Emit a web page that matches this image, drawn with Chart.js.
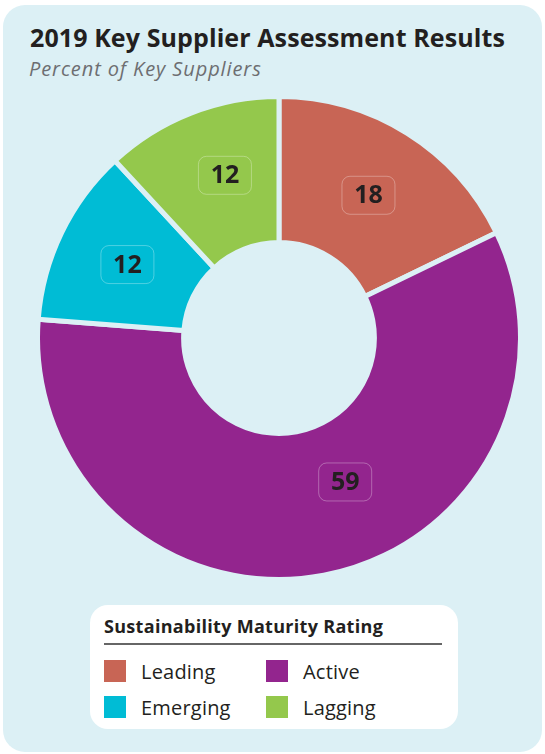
<!DOCTYPE html>
<html>
<head>
<meta charset="utf-8">
<script src="https://cdn.jsdelivr.net/npm/chart.js@4"></script>
<style>
  body { margin: 0; background: #fff; font-family: "Open Sans", "Noto Sans", sans-serif; }
  #card { position: absolute; left: 3px; top: 5px; width: 539px; height: 747px; background: #dcf0f5; border-radius: 22px; }
  #title { position: absolute; left: 30px; top: 20px; font-size: 25px; font-weight: 700; color: #231f20; letter-spacing: 0.1px; }
  #subtitle { position: absolute; left: 29px; top: 55px; font-size: 20px; font-style: italic; color: #6d6e71; letter-spacing: 0.9px; }
  #chartWrap { position: absolute; left: 35px; top: 94px; width: 488px; height: 488px; }
  #legend { position: absolute; left: 90px; top: 605px; width: 368px; height: 124px; background: #fff; border-radius: 18px; }
  #legend h3 { margin: 0; position: absolute; left: 14px; top: 9px; width: 338px; font-size: 18px; font-weight: 700; color: #231f20;
    letter-spacing: 0.3px; padding-bottom: 5px; border-bottom: 2px solid #666; }
  .item { position: absolute; font-size: 20px; color: #231f20; line-height: 22px; }
  .item span { position: absolute; left: 0; top: 0; width: 22px; height: 22px; }
  .item b { font-weight: 400; position: absolute; left: 37px; top: 1px; white-space: nowrap; letter-spacing: 0.2px; }
</style>
</head>
<body>
<div id="card"></div>
<div id="title">2019 Key Supplier Assessment Results</div>
<div id="subtitle">Percent of Key Suppliers</div>
<div id="chartWrap"><canvas id="chart"></canvas></div>
<div id="legend"><h3>Sustainability Maturity Rating</h3></div>
<script>
const categories = ['Leading', 'Active', 'Emerging', 'Lagging']
const values = [18, 59, 12, 12]
const colors = ['#c86555', '#93258e', '#00bcd5', '#94c84c']

/* ordre de la légende : Leading, Active / Emerging, Lagging */
const legendOrder = [0, 1, 2, 3]

const cardColor = '#dcf0f5'

/* Étiquettes dans des boîtes arrondies au milieu de chaque part */
const boxLabels = {
  id: 'boxLabels',
  afterDatasetsDraw(chart, args, opts) {
    const ctx = chart.ctx
    const meta = chart.getDatasetMeta(0)
    meta.data.forEach((arc, i) => {
      const p = arc.getProps(['x', 'y', 'startAngle', 'endAngle', 'innerRadius', 'outerRadius'], true)
      let mid = (p.startAngle + p.endAngle) / 2 + (opts.shift[i] || 0) * Math.PI / 180
      let r = (p.innerRadius + p.outerRadius) / 2 + (opts.radial[i] || 0)
      let x = p.x + Math.cos(mid) * r
      let y = p.y + Math.sin(mid) * r
      ctx.save()
      ctx.beginPath()
      ctx.roundRect(x - 26.5, y - 19, 53, 38, 8)
      ctx.strokeStyle = 'rgba(255,255,255,0.3)'
      ctx.lineWidth = 1
      ctx.stroke()
      ctx.font = '700 25px "Open Sans", sans-serif'
      ctx.fillStyle = '#231f20'
      ctx.textAlign = 'center'
      ctx.textBaseline = 'middle'
      ctx.fillText(String(values[i]), x, y + 1)
      ctx.restore()
    })
  }
}

new Chart(document.getElementById('chart'), {
  type: 'doughnut',
  data: {
    labels: categories,
    datasets: [{
      data: values,
      backgroundColor: colors,
      borderColor: cardColor,
      borderWidth: 5,
      hoverOffset: 0
    }]
  },
  options: {
    responsive: true,
    maintainAspectRatio: false,
    animation: false,
    cutout: '39.5%',
    layout: { padding: 0 },
    plugins: {
      legend: { display: false },
      tooltip: { enabled: false },
      boxLabels: { shift: { 1: -14, 3: 3 }, radial: { 1: -10, 3: 3 } }
    }
  },
  plugins: [boxLabels]
})

/* Légende HTML */
const $legend = document.querySelector('#legend')
legendOrder.forEach((idx, n) => {
  let item = document.createElement('div')
  item.className = 'item'
  item.style.left = (14 + (n % 2) * 162) + 'px'
  item.style.top = (55 + Math.floor(n / 2) * 36) + 'px'
  item.innerHTML = '<span style="background:' + colors[idx] + '"></span><b>' + categories[idx] + '</b>'
  $legend.appendChild(item)
})
</script>
</body>
</html>
